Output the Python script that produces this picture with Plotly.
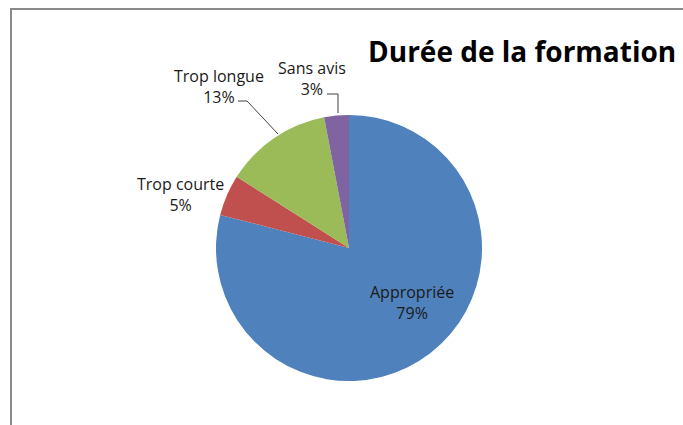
import plotly.graph_objects as go

categories = ["Appropriée", "Trop courte", "Trop longue", "Sans avis"]
values = [79, 5, 13, 3]
colors = ["#4F81BD", "#C0504D", "#9BBB59", "#8064A2"]
title_text = "Durée de la formation"

W, H = 683, 425

def px(x):
    return x / W

def py(y):
    return 1 - y / H

cx, cy, r = 349, 248, 133

fig = go.Figure(go.Pie(
    labels=categories,
    values=values,
    sort=False,
    direction="clockwise",
    rotation=0,
    marker=dict(colors=colors, line=dict(width=0)),
    textinfo="none",
    hoverinfo="label+percent",
    showlegend=False,
    domain=dict(x=[px(cx - r), px(cx + r)], y=[py(cy + r), py(cy - r)]),
))

total = sum(values)
pct = [f"{round(v * 100 / total)}%" for v in values]

# label positions (pixel centres)
label_pos = {
    "Appropriée": (412, 302),
    "Trop courte": (180, 194),
    "Trop longue": (219, 86),
    "Sans avis": (312, 78),
}

font = dict(family="Open Sans", size=16, color="#1a1a1a")
for cat, p in zip(categories, pct):
    x, y = label_pos[cat]
    fig.add_annotation(
        x=px(x), y=py(y), xref="paper", yref="paper",
        text=f"{cat}<br>{p}", showarrow=False, font=font,
        align="center", xanchor="center", yanchor="middle",
    )

fig.add_annotation(
    x=px(678), y=py(51), xref="paper", yref="paper",
    text=f"<b>{title_text}</b>", showarrow=False,
    font=dict(family="Open Sans", size=28, color="#000000"),
    xanchor="right", yanchor="middle",
)

def path(points):
    s = "M " + " L ".join(f"{px(x)},{py(y)}" for x, y in points)
    return s

shapes = [
    # leader lines
    dict(type="path", xref="paper", yref="paper",
         path=path([(238, 101), (247, 101), (278, 134)]),
         line=dict(color="#404040", width=1)),
    dict(type="path", xref="paper", yref="paper",
         path=path([(327, 94), (338, 94), (338, 113)]),
         line=dict(color="#404040", width=1)),
    # chart frame
    dict(type="path", xref="paper", yref="paper",
         path=path([(11, 425), (11, 9), (683, 9)]),
         line=dict(color="#8a8a8a", width=2)),
]

fig.update_layout(
    width=W, height=H,
    margin=dict(l=0, r=0, t=0, b=0),
    paper_bgcolor="white",
    plot_bgcolor="white",
    shapes=shapes,
)

fig.write_html(
    "out.html",
    config={"displayModeBar": False},
    post_script="document.body.style.margin='0';document.body.style.overflow='hidden';",
)
